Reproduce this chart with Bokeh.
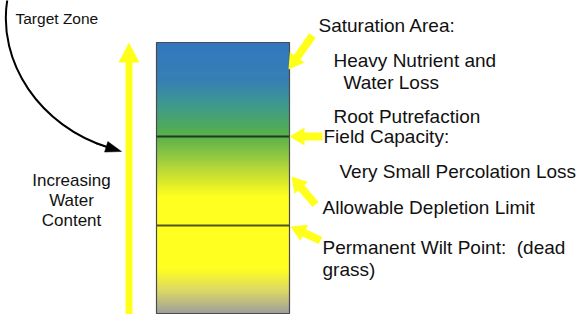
import numpy as np
from bokeh.plotting import figure
from bokeh.models import Range1d
from bokeh.core.properties import value
from bokeh.embed import file_html
from bokeh.resources import INLINE

# ---------------- data ----------------
# zone boundaries of the soil-water column (top, field capacity, depletion limit, bottom)
zone_levels = [42, 136, 225, 313]
# gradient colour stops down the column
grad_pos = [42, 80, 104, 128, 138, 155, 172, 196, 268, 290, 313]
grad_col = ["#1565b5", "#1a6eaa", "#238a80", "#38a040", "#48a832", "#80c028",
            "#b8d818", "#ffff00", "#ffff00", "#d8d450", "#909090"]

right_labels = ["Saturation Area:", "Heavy Nutrient and", "Water Loss",
                "Root Putrefaction", "Field Capacity:", "Very Small Percolation Loss",
                "Allowable Depletion Limit", "Permanent Wilt Point:\u00a0\u00a0(dead", "grass)"]
right_x = [318, 333, 343, 333, 323, 339, 322, 322, 322]
right_y = [24.5, 60, 81.5, 116, 136, 170.5, 207, 246.5, 269]

left_labels = ["Increasing", "Water", "Content"]
left_x = [71, 71, 71]
left_y = [179.5, 199.5, 219.5]

target_label = ["Target Zone"]
target_x = [15]
target_y = [18]

# yellow pointer arrows (tail -> tip)
ptr_tail_x = [312, 322, 315, 320]
ptr_tail_y = [35, 136, 204, 240]
ptr_tip_x = [288, 289, 291, 290]
ptr_tip_y = [69, 136, 176, 226]

# ---------------- figure ----------------
W, H = 579, 314
p = figure(width=W, height=H, output_backend="svg", toolbar_location=None,
           x_range=Range1d(0, W), y_range=Range1d(H, 0),
           min_border=0, outline_line_color=None)
p.axis.visible = False
p.grid.visible = False
p.background_fill_color = "white"
p.border_fill_color = "white"

# gradient column
def hex2rgb(h):
    return np.array([int(h[i:i + 2], 16) for i in (1, 3, 5)], dtype=float)

rgbs = np.array([hex2rgb(c) for c in grad_col])
x_left, x_right = 156, 289
edges = np.arange(zone_levels[0], zone_levels[-1] + 1, 1.0)
tops, bottoms, cols = [], [], []
for a, b in zip(edges[:-1], edges[1:]):
    m = 0.5 * (a + b)
    r = np.interp(m, grad_pos, rgbs[:, 0])
    g = np.interp(m, grad_pos, rgbs[:, 1])
    bl = np.interp(m, grad_pos, rgbs[:, 2])
    tops.append(a)
    bottoms.append(b + 0.3)
    cols.append("#%02x%02x%02x" % (int(r), int(g), int(bl)))
p.quad(left=x_left, right=x_right, top=tops, bottom=bottoms, fill_color=cols, line_color=None)

# column outline and zone lines
p.quad(left=x_left, right=x_right, top=zone_levels[0], bottom=zone_levels[-1],
       fill_color=None, line_color="#4a4a50", line_width=1.2)
p.segment(x0=x_left, x1=x_right, y0=zone_levels[1:3], y1=zone_levels[1:3],
          line_color=["#1c3a1c", "#55551a"], line_width=2)

# big yellow up arrow
yel = "#ffff1a"
p.quad(left=125, right=132, top=58, bottom=320, fill_color=yel, line_color=None)
p.patch(x=[118, 128.5, 139], y=[62, 42, 62], fill_color=yel, line_color=None)

# yellow pointer arrows
def arrow_poly(tx, ty, hx, hy, sw=8, hl=15, hw=18):
    d = np.array([hx - tx, hy - ty], float)
    L = np.hypot(*d)
    u = d / L
    n = np.array([-u[1], u[0]])
    tail = np.array([tx, ty], float)
    tip = np.array([hx, hy], float)
    base = tip - u * hl
    pts = [tail + n * sw / 2, base + n * sw / 2, base + n * hw / 2, tip,
           base - n * hw / 2, base - n * sw / 2, tail - n * sw / 2]
    return [q[0] for q in pts], [q[1] for q in pts]

xs, ys = [], []
for tx, ty, hx, hy in zip(ptr_tail_x, ptr_tail_y, ptr_tip_x, ptr_tip_y):
    ax, ay = arrow_poly(tx, ty, hx, hy)
    xs.append(ax)
    ys.append(ay)
p.patches(xs=xs, ys=ys, fill_color=yel, line_color=None)

# curved black arrow from "Target Zone"
P0, P1, P2, P3 = (7, -2), (-4, 62), (40, 126), (108, 147)
p.bezier(x0=[P0[0]], y0=[P0[1]], cx0=[P1[0]], cy0=[P1[1]], cx1=[P2[0]], cy1=[P2[1]],
         x1=[P3[0]], y1=[P3[1]], line_color="black", line_width=2)
hx_, hy_ = arrow_poly(95, 143, 121, 151, sw=0, hl=16, hw=11)
p.patch(x=hx_, y=hy_, fill_color="black", line_color="black", line_width=0.5)

# texts
font = value("Liberation Sans")
p.text(x=right_x, y=right_y, text=right_labels, text_font=font, text_font_size="19px",
       text_align="left", text_baseline="middle", text_color="#111111")
p.text(x=left_x, y=left_y, text=left_labels, text_font=font, text_font_size="17px",
       text_align="center", text_baseline="middle", text_color="#111111")
p.text(x=target_x, y=target_y, text=target_label, text_font=font, text_font_size="15.5px",
       text_align="left", text_baseline="middle", text_color="#111111")

open("out.html", "w").write(file_html(p, INLINE))
